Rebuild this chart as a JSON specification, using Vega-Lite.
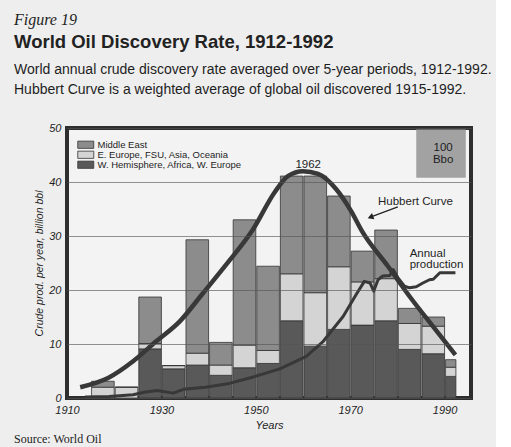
{
  "$schema": "https://vega.github.io/schema/vega-lite/v6.json",
  "background": "#eeeeee",
  "padding": {"left": 12, "right": 4, "top": 11, "bottom": 2},
  "title": {"text": "Figure 19", "anchor": "start", "font": "Liberation Serif", "fontStyle": "italic", "fontWeight": "normal", "fontSize": 16, "color": "#1e1e1e", "offset": 5, "dx": 2},
  "datasets": {
    "bars": [
      {"start": 1915, "end": 1920, "region": "W. Hemisphere, Africa, W. Europe", "value": 0},
      {"start": 1915, "end": 1920, "region": "E. Europe, FSU, Asia, Oceania", "value": 2.0},
      {"start": 1915, "end": 1920, "region": "Middle East", "value": 1.1},
      {"start": 1920, "end": 1925, "region": "W. Hemisphere, Africa, W. Europe", "value": 0},
      {"start": 1920, "end": 1925, "region": "E. Europe, FSU, Asia, Oceania", "value": 2.0},
      {"start": 1920, "end": 1925, "region": "Middle East", "value": 0},
      {"start": 1925, "end": 1930, "region": "W. Hemisphere, Africa, W. Europe", "value": 9.1},
      {"start": 1925, "end": 1930, "region": "E. Europe, FSU, Asia, Oceania", "value": 1.0},
      {"start": 1925, "end": 1930, "region": "Middle East", "value": 8.6},
      {"start": 1930, "end": 1935, "region": "W. Hemisphere, Africa, W. Europe", "value": 5.4},
      {"start": 1930, "end": 1935, "region": "E. Europe, FSU, Asia, Oceania", "value": 0.6},
      {"start": 1930, "end": 1935, "region": "Middle East", "value": 0},
      {"start": 1935, "end": 1940, "region": "W. Hemisphere, Africa, W. Europe", "value": 6.1},
      {"start": 1935, "end": 1940, "region": "E. Europe, FSU, Asia, Oceania", "value": 2.2},
      {"start": 1935, "end": 1940, "region": "Middle East", "value": 21.0},
      {"start": 1940, "end": 1945, "region": "W. Hemisphere, Africa, W. Europe", "value": 4.2},
      {"start": 1940, "end": 1945, "region": "E. Europe, FSU, Asia, Oceania", "value": 1.9},
      {"start": 1940, "end": 1945, "region": "Middle East", "value": 4.2},
      {"start": 1945, "end": 1950, "region": "W. Hemisphere, Africa, W. Europe", "value": 5.6},
      {"start": 1945, "end": 1950, "region": "E. Europe, FSU, Asia, Oceania", "value": 4.2},
      {"start": 1945, "end": 1950, "region": "Middle East", "value": 23.2},
      {"start": 1950, "end": 1955, "region": "W. Hemisphere, Africa, W. Europe", "value": 6.4},
      {"start": 1950, "end": 1955, "region": "E. Europe, FSU, Asia, Oceania", "value": 2.4},
      {"start": 1950, "end": 1955, "region": "Middle East", "value": 15.6},
      {"start": 1955, "end": 1960, "region": "W. Hemisphere, Africa, W. Europe", "value": 14.3},
      {"start": 1955, "end": 1960, "region": "E. Europe, FSU, Asia, Oceania", "value": 8.7},
      {"start": 1955, "end": 1960, "region": "Middle East", "value": 18.1},
      {"start": 1960, "end": 1965, "region": "W. Hemisphere, Africa, W. Europe", "value": 9.6},
      {"start": 1960, "end": 1965, "region": "E. Europe, FSU, Asia, Oceania", "value": 9.9},
      {"start": 1960, "end": 1965, "region": "Middle East", "value": 21.6},
      {"start": 1965, "end": 1970, "region": "W. Hemisphere, Africa, W. Europe", "value": 12.7},
      {"start": 1965, "end": 1970, "region": "E. Europe, FSU, Asia, Oceania", "value": 11.6},
      {"start": 1965, "end": 1970, "region": "Middle East", "value": 13.1},
      {"start": 1970, "end": 1975, "region": "W. Hemisphere, Africa, W. Europe", "value": 13.5},
      {"start": 1970, "end": 1975, "region": "E. Europe, FSU, Asia, Oceania", "value": 8.0},
      {"start": 1970, "end": 1975, "region": "Middle East", "value": 5.7},
      {"start": 1975, "end": 1980, "region": "W. Hemisphere, Africa, W. Europe", "value": 14.3},
      {"start": 1975, "end": 1980, "region": "E. Europe, FSU, Asia, Oceania", "value": 7.8},
      {"start": 1975, "end": 1980, "region": "Middle East", "value": 9.0},
      {"start": 1980, "end": 1985, "region": "W. Hemisphere, Africa, W. Europe", "value": 9.0},
      {"start": 1980, "end": 1985, "region": "E. Europe, FSU, Asia, Oceania", "value": 4.8},
      {"start": 1980, "end": 1985, "region": "Middle East", "value": 2.8},
      {"start": 1985, "end": 1990, "region": "W. Hemisphere, Africa, W. Europe", "value": 8.2},
      {"start": 1985, "end": 1990, "region": "E. Europe, FSU, Asia, Oceania", "value": 5.1},
      {"start": 1985, "end": 1990, "region": "Middle East", "value": 1.7},
      {"start": 1990, "end": 1992.4, "region": "W. Hemisphere, Africa, W. Europe", "value": 4.0},
      {"start": 1990, "end": 1992.4, "region": "E. Europe, FSU, Asia, Oceania", "value": 1.7},
      {"start": 1990, "end": 1992.4, "region": "Middle East", "value": 1.4}
    ],
    "hubbert": [
      {"year": 1912.8, "value": 2.0}, {"year": 1918.7, "value": 3.7}, {"year": 1924.0, "value": 6.8},
      {"year": 1928.9, "value": 10.5}, {"year": 1933.9, "value": 14.2}, {"year": 1938.8, "value": 19.4},
      {"year": 1944.1, "value": 25.1}, {"year": 1949.4, "value": 31.2}, {"year": 1954.0, "value": 38.1},
      {"year": 1956.8, "value": 41.1}, {"year": 1960.0, "value": 42.0}, {"year": 1963.2, "value": 41.5},
      {"year": 1967.0, "value": 38.7}, {"year": 1970.2, "value": 34.6}, {"year": 1972.5, "value": 30.9},
      {"year": 1978.0, "value": 24.4}, {"year": 1982.6, "value": 18.8}, {"year": 1987.5, "value": 13.3},
      {"year": 1992.3, "value": 8.0}
    ],
    "production": [
      {"year": 1913.8, "value": 0.2}, {"year": 1918.9, "value": 0.3}, {"year": 1924.0, "value": 0.6},
      {"year": 1926.6, "value": 1.1}, {"year": 1929.1, "value": 1.4}, {"year": 1932.5, "value": 0.9},
      {"year": 1934.7, "value": 1.6}, {"year": 1939.3, "value": 2.0}, {"year": 1944.4, "value": 2.7},
      {"year": 1949.5, "value": 3.9}, {"year": 1955.1, "value": 5.4}, {"year": 1960.7, "value": 7.7},
      {"year": 1964.3, "value": 10.5}, {"year": 1968.5, "value": 15.1}, {"year": 1971.3, "value": 19.2},
      {"year": 1973.0, "value": 21.6}, {"year": 1974.2, "value": 21.3}, {"year": 1975.0, "value": 19.8},
      {"year": 1975.9, "value": 21.9}, {"year": 1976.9, "value": 22.6}, {"year": 1978.4, "value": 22.7},
      {"year": 1979.1, "value": 23.8}, {"year": 1980.1, "value": 22.3}, {"year": 1981.5, "value": 20.7},
      {"year": 1982.6, "value": 20.4}, {"year": 1984.0, "value": 20.6}, {"year": 1985.4, "value": 21.3},
      {"year": 1986.8, "value": 21.9}, {"year": 1987.6, "value": 22.0}, {"year": 1989.0, "value": 23.2},
      {"year": 1992.3, "value": 23.2}
    ],
    "box": [{"x0": 1984.0, "x1": 1994.5, "y0": 40.8, "y1": 49.7}],
    "centerText": [
      {"x": 1961.1, "y": 42.6, "text": "1962"},
      {"x": 1989.7, "y": 45.7, "text": "100"},
      {"x": 1989.7, "y": 43.5, "text": "Bbo"}
    ],
    "leftText": [
      {"x": 1975.9, "y": 35.8, "text": "Hubbert Curve"},
      {"x": 1982.6, "y": 26.1, "text": "Annual"},
      {"x": 1982.6, "y": 24.1, "text": "production"}
    ],
    "arrow": [{"x0": 1980.1, "x1": 1974.0, "y0": 35.4, "y1": 33.4}],
    "arrowHead": [{"x": 1974.3, "y": 33.5}]
  },
  "vconcat": [{
    "title": {
      "text": "World Oil Discovery Rate, 1912-1992",
      "subtitle": ["World annual crude discovery rate averaged over 5-year periods, 1912-1992.", "Hubbert Curve is a weighted average of global oil discovered 1915-1992."],
      "anchor": "start", "font": "Liberation Sans", "fontSize": 18.5, "fontWeight": "bold", "color": "#222222", "dx": 2,
      "subtitleFont": "Liberation Sans", "subtitleFontSize": 14, "subtitleColor": "#1e1e1e", "subtitlePadding": 12, "subtitleLineHeight": 20, "offset": 23
    },
    "vconcat": [{
      "title": {"text": "Source: World Oil", "orient": "bottom", "anchor": "start", "font": "Liberation Serif", "fontSize": 12, "fontWeight": "normal", "color": "#222222", "offset": 4, "dx": -20},
      "width": 404,
      "height": 270,
      "layer": [
        {
          "data": {"name": "box"},
          "mark": {"type": "rect", "fill": "#a2a2a2"},
          "encoding": {
            "x": {"field": "x0", "type": "quantitative"},
            "x2": {"field": "x1"},
            "y": {"field": "y0", "type": "quantitative"},
            "y2": {"field": "y1"}
          }
        },
        {
          "data": {"name": "bars"},
          "transform": [{"calculate": "indexof(['W. Hemisphere, Africa, W. Europe', 'E. Europe, FSU, Asia, Oceania', 'Middle East'], datum.region)", "as": "stackRank"}],
          "mark": {"type": "bar", "stroke": "#333333", "strokeWidth": 0.8},
          "encoding": {
            "x": {"field": "start", "type": "quantitative", "bin": {"binned": true},
              "scale": {"domain": [1910, 1995.6], "nice": false, "zero": false},
              "axis": {"values": [1910, 1930, 1950, 1970, 1990], "format": "d", "title": "Years", "grid": false, "domain": false, "ticks": false, "labelFlush": false,
                "labelFont": "Liberation Sans", "labelFontStyle": "italic", "labelFontSize": 11, "labelColor": "#1e1e1e", "labelPadding": 6,
                "titleFont": "Liberation Sans", "titleFontStyle": "italic", "titleFontWeight": "normal", "titleFontSize": 11, "titleColor": "#1e1e1e", "titlePadding": 4}},
            "x2": {"field": "end"},
            "y": {"field": "value", "type": "quantitative", "stack": "zero",
              "scale": {"domain": [0, 50], "nice": false},
              "axis": {"values": [0, 10, 20, 30, 40, 50], "title": "Crude prod. per year, billion bbl", "grid": true, "gridColor": "#555555", "gridWidth": 0.8, "gridOpacity": 0.8, "zindex": 1, "domain": false, "ticks": false,
                "labelFont": "Liberation Sans", "labelFontStyle": "italic", "labelFontSize": 11, "labelColor": "#1e1e1e", "labelPadding": 6,
                "titleFont": "Liberation Sans", "titleFontStyle": "italic", "titleFontWeight": "normal", "titleFontSize": 10.5, "titleColor": "#1e1e1e", "titleX": -23, "titleY": 135}},
            "order": {"field": "stackRank", "type": "quantitative", "sort": "ascending"},
            "color": {"field": "region", "type": "nominal",
              "scale": {"domain": ["Middle East", "E. Europe, FSU, Asia, Oceania", "W. Hemisphere, Africa, W. Europe"], "range": ["#8c8c8c", "#d4d4d4", "#595959"]},
              "legend": {"title": null, "orient": "none", "legendX": 14, "legendY": 12, "symbolType": "M-2,-0.9H2V0.9H-2Z", "symbolSize": 64,
                "symbolStrokeColor": "#333333", "symbolStrokeWidth": 0.8, "labelFont": "Liberation Sans", "labelFontSize": 9.5, "labelColor": "#1e1e1e",
                "labelOffset": 7, "rowPadding": -1, "padding": 0, "labelLimit": 300}}
          }
        },
        {
          "data": {"name": "hubbert"},
          "mark": {"type": "line", "interpolate": "monotone", "color": "#383838", "strokeWidth": 4.5, "strokeCap": "butt"},
          "encoding": {
            "x": {"field": "year", "type": "quantitative"},
            "y": {"field": "value", "type": "quantitative"}
          }
        },
        {
          "data": {"name": "production"},
          "mark": {"type": "line", "color": "#383838", "strokeWidth": 3, "strokeJoin": "round"},
          "encoding": {
            "x": {"field": "year", "type": "quantitative"},
            "y": {"field": "value", "type": "quantitative"}
          }
        },
        {
          "data": {"name": "arrow"},
          "mark": {"type": "rule", "color": "#222222", "strokeWidth": 1.3},
          "encoding": {
            "x": {"field": "x0", "type": "quantitative"},
            "x2": {"field": "x1"},
            "y": {"field": "y0", "type": "quantitative"},
            "y2": {"field": "y1"}
          }
        },
        {
          "data": {"name": "arrowHead"},
          "mark": {"type": "point", "shape": "triangle-left", "filled": true, "color": "#222222", "size": 45, "angle": 339, "opacity": 1},
          "encoding": {
            "x": {"field": "x", "type": "quantitative"},
            "y": {"field": "y", "type": "quantitative"}
          }
        },
        {
          "data": {"name": "centerText"},
          "mark": {"type": "text", "align": "center", "baseline": "alphabetic", "font": "Liberation Sans", "fontSize": 11.5, "color": "#1e1e1e"},
          "encoding": {
            "x": {"field": "x", "type": "quantitative"},
            "y": {"field": "y", "type": "quantitative"},
            "text": {"field": "text"}
          }
        },
        {
          "data": {"name": "leftText"},
          "mark": {"type": "text", "align": "left", "baseline": "alphabetic", "font": "Liberation Sans", "fontSize": 11.5, "color": "#1e1e1e"},
          "encoding": {
            "x": {"field": "x", "type": "quantitative"},
            "y": {"field": "y", "type": "quantitative"},
            "text": {"field": "text"}
          }
        }
      ]
    }]
  }],
  "config": {
    "font": "Liberation Sans",
    "view": {"stroke": "#2e2e2e", "strokeWidth": 4, "fill": "#f3f3f3"},
    "concat": {"spacing": 0}
  }
}
